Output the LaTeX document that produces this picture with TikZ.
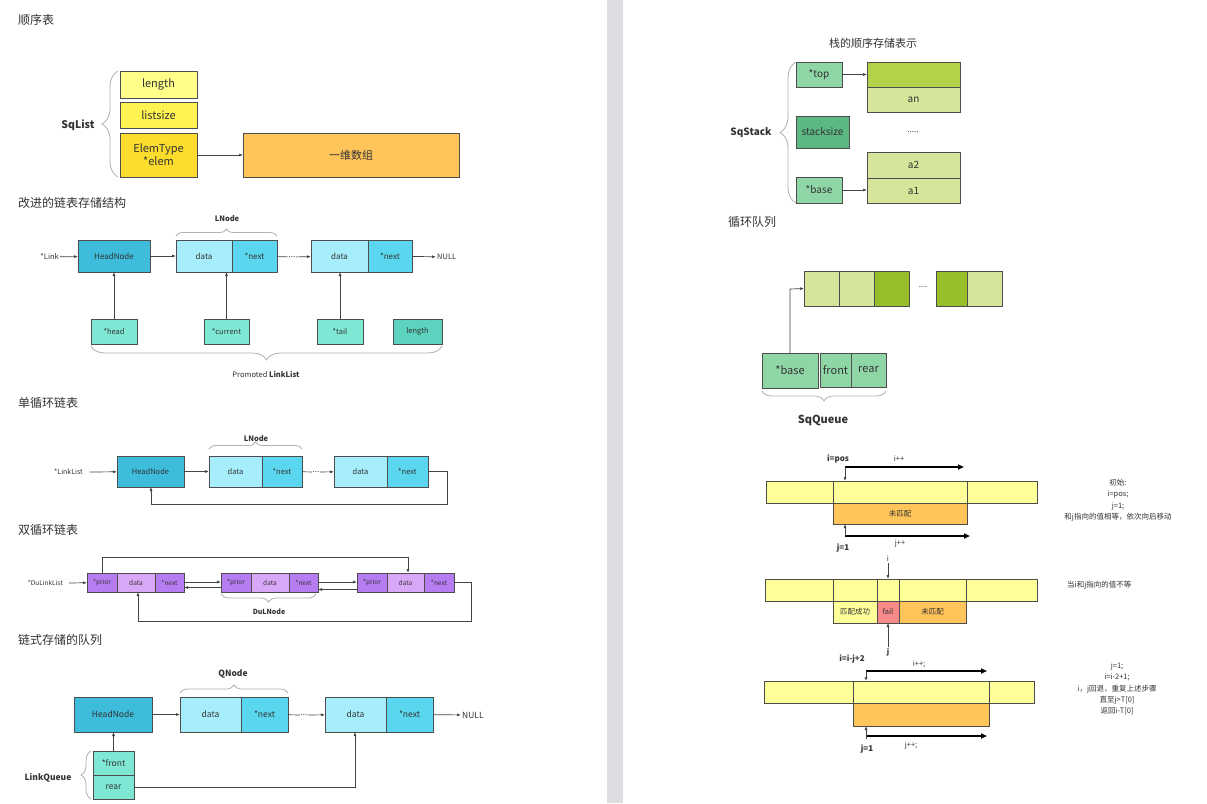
\documentclass[tikz,border=0pt]{standalone}
\usepackage{fontspec}
\setmainfont{Noto Sans CJK SC}
\usetikzlibrary{arrows.meta,decorations.pathreplacing}
\definecolor{linec}{HTML}{4D4D4D}
\definecolor{arrc}{HTML}{444444}
\definecolor{txt}{HTML}{333333}
\definecolor{bracec}{HTML}{B0B0B0}
\definecolor{yelA}{HTML}{FFFF8A}
\definecolor{yelB}{HTML}{FFF352}
\definecolor{yelC}{HTML}{FCDD2E}
\definecolor{orng}{HTML}{FFC45A}
\definecolor{cyanD}{HTML}{3DBDDB}
\definecolor{cyanL}{HTML}{A6EEFB}
\definecolor{cyanM}{HTML}{5AD7EE}
\definecolor{tealA}{HTML}{7FE8D5}
\definecolor{tealB}{HTML}{5CD3BE}
\definecolor{purD}{HTML}{B67CF2}
\definecolor{purL}{HTML}{D9A7F7}
\definecolor{grnL}{HTML}{8ED6A6}
\definecolor{grnD}{HTML}{5CB883}
\definecolor{lime}{HTML}{B2D24A}
\definecolor{limeL}{HTML}{D5E69A}
\definecolor{limeD}{HTML}{97BF2B}
\definecolor{kyel}{HTML}{FFFF99}
\definecolor{kred}{HTML}{F88A8A}
\definecolor{divc}{HTML}{DEDEE2}
\tikzset{
  cell/.style={draw=linec, line width=0.7pt, inner sep=0pt, outer sep=0pt, anchor=north west, align=center, text=txt},
  lab/.style={inner sep=1pt, text=txt, align=center},
  ttl/.style={inner sep=0pt, anchor=west, text=txt, font=\fontsize{12}{14}\selectfont},
  arr/.style={draw=arrc, line width=0.7pt, -{Latex[length=4pt,width=3pt]}},
  thk/.style={draw=black, line width=1.6pt, -{Triangle[length=6pt,width=5pt]}},
  brc/.style={draw=bracec, line width=0.8pt, decorate, decoration={brace, amplitude=#1}},
  brc/.default=8,
  dts/.style={inner sep=0.5pt, text=txt, font=\fontsize{8}{9}\selectfont}
}
\begin{document}
\begin{tikzpicture}[x=1pt,y=-1pt]
\useasboundingbox (0,0) rectangle (1207,803);
\fill[white] (0,0) rectangle (1207,803);
\fill[divc] (607,0) rectangle (623,803);

% ---------- 顺序表 ----------
\node[ttl] (t1) at (18,20) {顺序表};
\node[cell, fill=yelA, minimum width=77, minimum height=27, font=\fontsize{11}{12}\selectfont] (len) at (120,71) {length};
\node[cell, fill=yelB, minimum width=77, minimum height=26, font=\fontsize{11}{12}\selectfont] (lsz) at (120,102) {listsize};
\node[cell, fill=yelC, minimum width=77, minimum height=44, font=\fontsize{11}{13}\selectfont] (elem) at (120,133) {ElemType\\*elem};
\node[cell, fill=orng, minimum width=216, minimum height=44, font=\fontsize{11}{12}\selectfont] (arr1) at (243,133) {一维数组};
\draw[arr] (elem) -- (arr1);
\draw[brc=16] (118,177) -- (118,71);
\node[lab, font=\bfseries\fontsize{10.5}{12}\selectfont] (sql) at (78,125) {SqList};

% ---------- 改进的链表存储结构 ----------
\node[ttl] (t2) at (18,203) {改进的链表存储结构};
\node[lab, font=\fontsize{7.5}{9}\selectfont, anchor=east] (lnk) at (60,257) {*Link};
\node[cell, fill=cyanD, minimum width=72, minimum height=32, font=\fontsize{8}{9}\selectfont] (hd2) at (78,240) {HeadNode};
\node[cell, fill=cyanL, minimum width=56, minimum height=32, font=\fontsize{8}{9}\selectfont] (d2a) at (176,240) {data};
\node[cell, fill=cyanM, minimum width=45, minimum height=32, font=\fontsize{8}{9}\selectfont] (n2a) at (232,240) {*next};
\node[dts] (dot2) at (292,257) {...};
\node[cell, fill=cyanL, minimum width=57, minimum height=32, font=\fontsize{8}{9}\selectfont] (d2b) at (311,240) {data};
\node[cell, fill=cyanM, minimum width=44, minimum height=32, font=\fontsize{8}{9}\selectfont] (n2b) at (368,240) {*next};
\node[lab, font=\fontsize{7.5}{9}\selectfont, anchor=west] (nul2) at (436,257) {NULL};
\draw[arr] (lnk) -- (hd2);
\draw[arr] (hd2) -- (d2a);
\draw[draw=arrc, line width=0.7pt] (n2a) -- (dot2);
\draw[arr] (dot2) -- (d2b);
\draw[arr] (n2b) -- (nul2);
\node[cell, fill=tealA, minimum width=46, minimum height=25, font=\fontsize{7.5}{9}\selectfont] (hp) at (91,319) {*head};
\node[cell, fill=tealA, minimum width=45, minimum height=25, font=\fontsize{7.5}{9}\selectfont] (cur) at (204,319) {*current};
\node[cell, fill=tealA, minimum width=46, minimum height=25, font=\fontsize{7.5}{9}\selectfont] (tl) at (317,319) {*tail};
\node[cell, fill=tealB, minimum width=49, minimum height=25, font=\fontsize{7.5}{9}\selectfont] (ll) at (393,319) {length};
\draw[arr] (hp.north) -- (hp.north |- hd2.south);
\draw[arr] (cur.north) -- (cur.north |- d2a.south);
\draw[arr] (tl.north) -- (tl.north |- d2b.south);
\draw[brc=7] (176,236) -- (277,236);
\node[lab, font=\bfseries\fontsize{7.5}{9}\selectfont] (ln2) at (227,219) {LNode};
\draw[brc=14] (442,346) -- (91,346);
\node[lab, font=\fontsize{7.5}{9}\selectfont] (pll) at (266,374) {Promoted \textbf{LinkList}};

% ---------- 单循环链表 ----------
\node[ttl] (t3) at (18,403) {单循环链表};
\node[lab, font=\fontsize{7}{8}\selectfont, anchor=east] (lkl) at (84,472) {*LinkList};
\node[cell, fill=cyanD, minimum width=67, minimum height=31, font=\fontsize{7.5}{9}\selectfont] (hd3) at (117,456) {HeadNode};
\node[cell, fill=cyanL, minimum width=53, minimum height=31, font=\fontsize{7.5}{9}\selectfont] (d3a) at (209,456) {data};
\node[cell, fill=cyanM, minimum width=40, minimum height=31, font=\fontsize{7.5}{9}\selectfont] (n3a) at (262,456) {*next};
\node[dts] (dot3) at (316,472) {...};
\node[cell, fill=cyanL, minimum width=53, minimum height=31, font=\fontsize{7.5}{9}\selectfont] (d3b) at (334,456) {data};
\node[cell, fill=cyanM, minimum width=41, minimum height=31, font=\fontsize{7.5}{9}\selectfont] (n3b) at (387,456) {*next};
\draw[arr] ([xshift=6pt]lkl.east) -- (hd3);
\draw[arr] (hd3) -- (d3a);
\draw[draw=arrc, line width=0.7pt] (n3a) -- (dot3);
\draw[arr] (dot3) -- (d3b);
\coordinate (c3a) at (447,504);
\coordinate (c3b) at (151,504);
\draw[arr] (n3b.east) -| (c3a) -- (c3b) -- (c3b |- hd3.south);
\draw[brc=7] (209,449) -- (302,449);
\node[lab, font=\bfseries\fontsize{7.5}{9}\selectfont] (ln3) at (256,439) {LNode};

% ---------- 双循环链表 ----------
\node[ttl] (t4) at (18,530) {双循环链表};
\node[lab, font=\fontsize{6.5}{8}\selectfont, anchor=east] (dul) at (64,583) {*DuLinkList};
\node[cell, fill=purD, minimum width=30, minimum height=19, font=\fontsize{6.5}{8}\selectfont] (p1) at (87,573) {*prior};
\node[cell, fill=purL, minimum width=38, minimum height=19, font=\fontsize{6.5}{8}\selectfont] (da1) at (117,573) {data};
\node[cell, fill=purD, minimum width=29, minimum height=19, font=\fontsize{6.5}{8}\selectfont] (nx1) at (155,573) {*next};
\node[cell, fill=purD, minimum width=30, minimum height=19, font=\fontsize{6.5}{8}\selectfont] (p2) at (221,573) {*prior};
\node[cell, fill=purL, minimum width=38, minimum height=19, font=\fontsize{6.5}{8}\selectfont] (da2) at (251,573) {data};
\node[cell, fill=purD, minimum width=29, minimum height=19, font=\fontsize{6.5}{8}\selectfont] (nx2) at (289,573) {*next};
\node[cell, fill=purD, minimum width=30, minimum height=19, font=\fontsize{6.5}{8}\selectfont] (p3) at (357,573) {*prior};
\node[cell, fill=purL, minimum width=37, minimum height=19, font=\fontsize{6.5}{8}\selectfont] (da3) at (387,573) {data};
\node[cell, fill=purD, minimum width=30, minimum height=19, font=\fontsize{6.5}{8}\selectfont] (nx3) at (424,573) {*next};
\draw[arr] ([xshift=5pt]dul.east) -- (p1);
\draw[arr] ([yshift=0.5pt]nx1.east) -- ([yshift=0.5pt]p2.west);
\draw[arr] ([yshift=-5pt]p2.west) -- ([yshift=-5pt]nx1.east);
\draw[arr] ([yshift=0.5pt]nx2.east) -- ([yshift=0.5pt]p3.west);
\draw[arr] ([yshift=-7pt]p3.west) -- ([yshift=-7pt]nx2.east);
\coordinate (c4a) at (102,557);
\coordinate (c4b) at (408,557);
\draw[arr] (p1.north) -- (c4a) -- (c4b) -- (c4b |- p3.north);
\coordinate (c4c) at (471,621);
\coordinate (c4d) at (138,621);
\draw[arr] (nx3.east) -| (c4c) -- (c4d) -- (c4d |- da1.south);
\draw[brc=8] (316,594) -- (221,594);
\node[lab, font=\bfseries\fontsize{7}{8}\selectfont] (dln) at (269,612) {DuLNode};

% ---------- 链式存储的队列 ----------
\node[ttl] (t5) at (18,640) {链式存储的队列};
\node[cell, fill=cyanD, minimum width=78, minimum height=35, font=\fontsize{8.5}{10}\selectfont] (hd5) at (74,697) {HeadNode};
\node[cell, fill=cyanL, minimum width=61, minimum height=35, font=\fontsize{8.5}{10}\selectfont] (d5a) at (180,697) {data};
\node[cell, fill=cyanM, minimum width=47, minimum height=35, font=\fontsize{8.5}{10}\selectfont] (n5a) at (241,697) {*next};
\node[dts] (dot5) at (304,715) {...};
\node[cell, fill=cyanL, minimum width=61, minimum height=35, font=\fontsize{8.5}{10}\selectfont] (d5b) at (325,697) {data};
\node[cell, fill=cyanM, minimum width=47, minimum height=35, font=\fontsize{8.5}{10}\selectfont] (n5b) at (386,697) {*next};
\node[lab, font=\fontsize{8.5}{10}\selectfont, anchor=west] (nul5) at (461,715) {NULL};
\draw[arr] (hd5) -- (d5a);
\draw[draw=arrc, line width=0.7pt] (n5a) -- (dot5);
\draw[arr] (dot5) -- (d5b);
\draw[arr] (n5b) -- (nul5);
\node[cell, fill=tealA, minimum width=41, minimum height=24, font=\fontsize{8.5}{10}\selectfont] (fr) at (93,751) {*front};
\node[cell, fill=tealA, minimum width=41, minimum height=24, font=\fontsize{8.5}{10}\selectfont] (rr) at (93,775) {rear};
\draw[arr] (fr.north) -- (fr.north |- hd5.south);
\coordinate (c5) at (355,787);
\draw[arr] (rr.east) -- (c5) -- (c5 |- d5b.south);
\draw[brc=8] (180,693) -- (288,693);
\node[lab, font=\bfseries\fontsize{8.5}{10}\selectfont] (qn) at (233,674) {QNode};
\draw[brc=10] (91,799) -- (91,751);
\node[lab, font=\bfseries\fontsize{8.5}{10}\selectfont] (lq) at (48,778) {LinkQueue};

% ---------- 栈的顺序存储表示 ----------
\node[lab, font=\fontsize{11}{13}\selectfont] (t6) at (873,43) {栈的顺序存储表示};
\node[cell, fill=grnL, minimum width=46, minimum height=25, font=\fontsize{10}{12}\selectfont] (stp) at (796,62) {*top};
\node[cell, fill=grnD, minimum width=53, minimum height=32, font=\fontsize{10}{12}\selectfont] (ssz) at (796,116) {stacksize};
\node[cell, fill=grnL, minimum width=46, minimum height=26, font=\fontsize{10}{12}\selectfont] (sbs) at (796,177) {*base};
\node[cell, fill=lime, minimum width=93, minimum height=25] (s1) at (867,62) {};
\node[cell, fill=limeL, minimum width=93, minimum height=25, font=\fontsize{10}{12}\selectfont] (s2) at (867,87) {an};
\node[lab, font=\fontsize{8}{9}\selectfont] (sdt) at (913,132) {.....};
\node[cell, fill=limeL, minimum width=93, minimum height=26, font=\fontsize{10}{12}\selectfont] (s3) at (867,152) {a2};
\node[cell, fill=limeL, minimum width=93, minimum height=25, font=\fontsize{10}{12}\selectfont] (s4) at (867,178) {a1};
\draw[arr] (stp) -- (s1);
\draw[arr] (sbs) -- (s4.west |- sbs);
\draw[brc=16] (796,203) -- (796,62);
\node[lab, font=\bfseries\fontsize{10}{12}\selectfont] (sqs) at (751,133) {SqStack};

% ---------- 循环队列 ----------
\node[ttl] (t7) at (728,222) {循环队列};
\node[cell, fill=limeL, minimum width=35, minimum height=35] (q1) at (804,271) {};
\node[cell, fill=limeL, minimum width=35, minimum height=35] (q2) at (839,271) {};
\node[cell, fill=limeD, minimum width=35, minimum height=35] (q3) at (874,271) {};
\node[lab, font=\fontsize{7.5}{8}\selectfont] (qdt) at (923,287) {....};
\node[cell, fill=limeD, minimum width=31, minimum height=35] (q4) at (936,271) {};
\node[cell, fill=limeL, minimum width=35, minimum height=35] (q5) at (967,271) {};
\node[cell, fill=grnL, minimum width=56, minimum height=35, font=\fontsize{11}{13}\selectfont] (qb) at (762,353) {*base};
\node[cell, fill=grnL, minimum width=31, minimum height=34, font=\fontsize{11}{13}\selectfont] (qf) at (820,353) {front};
\node[cell, fill=grnL, minimum width=35, minimum height=34, font=\fontsize{11}{13}\selectfont] (qr) at (851,353) {rear};
\coordinate (c7) at (790,289);
\draw[arr] (qb.north) -- (c7) -- (q1.west);
\draw[brc=10] (886,391) -- (762,391);
\node[lab, font=\bfseries\fontsize{11}{13}\selectfont] (sqq) at (823,420) {SqQueue};

% ---------- 匹配 1 ----------
\node[cell, fill=kyel, minimum width=67, minimum height=22] (a1) at (766,481) {};
\node[cell, fill=kyel, minimum width=134, minimum height=22] (a2) at (833,481) {};
\node[cell, fill=kyel, minimum width=70, minimum height=22] (a3) at (967,481) {};
\node[cell, fill=orng, minimum width=134, minimum height=21, font=\fontsize{7.5}{8}\selectfont] (ao) at (833,503) {未匹配};
\node[lab, font=\bfseries\fontsize{8}{9}\selectfont] (ip1) at (838,459) {i=pos};
\node[lab, font=\fontsize{7.5}{8}\selectfont] (ii1) at (899,459) {i++};
\coordinate (k1a) at (845,467);
\coordinate (k1b) at (964,467);
\draw[thk] (k1a) -- (k1b);
\draw[arr] (k1a) -- (k1a |- a2.north);
\coordinate (k1c) at (845,536);
\coordinate (k1d) at (970,536);
\draw[thk] (k1c) -- (k1d);
\draw[arr] (k1c) -- (k1c |- ao.south);
\node[lab, font=\bfseries\fontsize{8}{9}\selectfont] (j11) at (843,548) {j=1};
\node[lab, font=\fontsize{7.5}{8}\selectfont] (jj1) at (900,543) {j++};
\node[lab, font=\fontsize{7.5}{11.5}\selectfont] (r1) at (1118,500) {初始:\\i=pos;\\j=1;\\和j指向的值相等，依次向后移动};

% ---------- 匹配 2 ----------
\node[cell, fill=kyel, minimum width=68, minimum height=22] (b1) at (765,579) {};
\node[cell, fill=kyel, minimum width=44, minimum height=22] (b2) at (833,579) {};
\node[cell, fill=kyel, minimum width=22, minimum height=22] (b3) at (877,579) {};
\node[cell, fill=kyel, minimum width=67, minimum height=22] (b4) at (899,579) {};
\node[cell, fill=kyel, minimum width=71, minimum height=22] (b5) at (966,579) {};
\node[cell, fill=kyel, minimum width=44, minimum height=22, font=\fontsize{7.5}{8}\selectfont] (m1) at (833,601) {匹配成功};
\node[cell, fill=kred, minimum width=22, minimum height=22, font=\fontsize{7.5}{8}\selectfont] (m2) at (877,601) {fail};
\node[cell, fill=orng, minimum width=67, minimum height=22, font=\fontsize{7.5}{8}\selectfont] (m3) at (899,601) {未匹配};
\node[lab, font=\fontsize{7.5}{9}\selectfont] (il2) at (888,559) {i};
\draw[arr] (il2.south) -- (b3.north);
\node[lab, font=\bfseries\fontsize{7.5}{9}\selectfont] (jl2) at (888,652) {j};
\draw[arr] (jl2.north) -- (m2.south);
\node[lab, font=\fontsize{7.5}{8}\selectfont, anchor=west] (r2) at (1066,585) {当i和j指向的值不等};

% ---------- 匹配 3 ----------
\node[cell, fill=kyel, minimum width=89, minimum height=22] (e1) at (764,681) {};
\node[cell, fill=kyel, minimum width=136, minimum height=22] (e2) at (853,681) {};
\node[cell, fill=kyel, minimum width=45, minimum height=22] (e3) at (989,681) {};
\node[cell, fill=orng, minimum width=136, minimum height=23] (eo) at (853,703) {};
\node[lab, font=\bfseries\fontsize{8}{9}\selectfont] (ij3) at (852,659) {i=i-j+2};
\node[lab, font=\fontsize{7.5}{8}\selectfont] (ii3) at (919,664) {i++;};
\coordinate (k3a) at (866,671);
\coordinate (k3b) at (987,671);
\draw[thk] (k3a) -- (k3b);
\draw[arr] (k3a) -- (k3a |- e2.north);
\coordinate (k3c) at (866,736);
\coordinate (k3d) at (987,736);
\draw[thk] (k3c) -- (k3d);
\draw[arr] ([yshift=-3pt]k3c) -- (k3c |- eo.south);
\node[lab, font=\bfseries\fontsize{8}{9}\selectfont] (j13) at (867,749) {j=1};
\node[lab, font=\fontsize{7.5}{8}\selectfont] (jj3) at (911,745) {j++;};
\node[lab, font=\fontsize{7.5}{11.3}\selectfont] (r3) at (1117,689) {j=1;\\i=i-2+1;\\i，j回退，重复上述步骤\\直至j>T[0]\\返回i-T[0]};
\end{tikzpicture}
\end{document}
